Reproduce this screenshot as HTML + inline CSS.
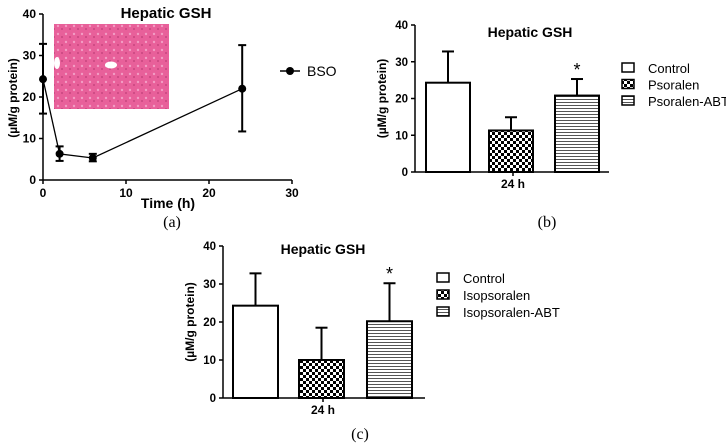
<!DOCTYPE html>
<html><head><meta charset="utf-8"><style>
body{margin:0;background:#fff;}
svg{display:block;font-family:"Liberation Sans",Arial,sans-serif;}
.b{font-weight:bold;}
</style></head><body>
<svg id="s" width="726" height="447" viewBox="0 0 726 447">
<defs>
<pattern id="chk" width="6" height="6" patternUnits="userSpaceOnUse"><rect width="6" height="6" fill="#fff"/><rect width="3" height="3" fill="#000"/><rect x="3" y="3" width="3" height="3" fill="#000"/></pattern>
<pattern id="hl" width="4" height="3" patternUnits="userSpaceOnUse"><rect width="4" height="3" fill="#fff"/><rect width="4" height="1" fill="#555"/></pattern>
<pattern id="tis" width="8" height="8" patternUnits="userSpaceOnUse"><rect width="8" height="8" fill="#e8609a"/><circle cx="2" cy="2" r="1.2" fill="#f39cc4"/><circle cx="6" cy="5" r="1" fill="#c9467f"/></pattern>
</defs>
</svg>
<script>
// Panel (a) data
const timeVals=[0,2,6,24];
const bsoMean=[24.3,6.3,5.3,22];
const bsoLow=[16,4.6,4.5,11.7];
const bsoHigh=[32.8,8.1,6.3,32.5];
const yTicks=[0,10,20,30,40];
const xTicksA=[0,10,20,30];
// Panel (b) data
const groupsB=["Control","Psoralen","Psoralen-ABT"];
const meanB=[24.3,11.3,20.8];
const errB=[32.8,14.9,25.3];
const starB=[false,false,true];
// Panel (c) data
const groupsC=["Control","Isopsoralen","Isopsoralen-ABT"];
const meanC=[24.3,10,20.2];
const errC=[32.8,18.5,30.2];
const starC=[false,false,true];

const svg=document.getElementById('s');
const NS='http://www.w3.org/2000/svg';
function mk(tag,at,txt){const e=document.createElementNS(NS,tag);for(const k in at)e.setAttribute(k,at[k]);if(txt!==undefined)e.textContent=txt;svg.appendChild(e);return e;}
function ln(x1,y1,x2,y2,w){return mk('line',{x1,y1,x2,y2,stroke:'#000','stroke-width':w||1.5});}

// ---------- Panel (a)
{
const X=v=>43+v*(249/30), Y=v=>180-v*(166/40);
const img=mk('rect',{x:54,y:24,width:115,height:85,fill:'url(#tis)'});


mk('ellipse',{cx:111,cy:65,rx:6,ry:3.5,fill:'#fff'});
mk('ellipse',{cx:57,cy:63,rx:3,ry:6,fill:'#fff'});
ln(43,14,43,180);ln(43,180,292,180);
yTicks.forEach(t=>{ln(39,Y(t),43,Y(t));const e=mk('text',{x:36,y:Y(t)+4,'text-anchor':'end','font-size':12,class:'b'},t);});
xTicksA.forEach(t=>{ln(X(t),180,X(t),184);const e=mk('text',{x:X(t),y:197,'text-anchor':'middle','font-size':12,class:'b'},t);});
const pts=timeVals.map((t,i)=>X(t)+','+Y(bsoMean[i])).join(' ');
const pl=mk('polyline',{points:pts,fill:'none',stroke:'#000','stroke-width':1.3});

timeVals.forEach((t,i)=>{const x=X(t);ln(x,Y(bsoLow[i]),x,Y(bsoHigh[i]),2);ln(x-4,Y(bsoLow[i]),x+4,Y(bsoLow[i]),2);ln(x-4,Y(bsoHigh[i]),x+4,Y(bsoHigh[i]),2);
const c=mk('circle',{cx:x,cy:Y(bsoMean[i]),r:4,fill:'#000'});});
let e=mk('text',{x:166,y:18,'text-anchor':'middle','font-size':15,class:'b'},'Hepatic GSH');
e=mk('text',{x:0,y:0,'text-anchor':'middle','font-size':12,class:'b',transform:'translate(17,98) rotate(-90)'},'(µM/g protein)');
e=mk('text',{x:168,y:208,'text-anchor':'middle','font-size':14,class:'b'},'Time (h)');
ln(280,71,300,71);mk('circle',{cx:290,cy:71,r:4,fill:'#000'});
e=mk('text',{x:307,y:76,'font-size':14},'BSO');
e=mk('text',{x:172,y:227,'text-anchor':'middle','font-size':16,'font-family':'Liberation Serif'},'(a)');
}

// ---------- bar panels
function barPanel(o,groups,mean,err,star){
const Y=v=>o.y0-v*(o.y0-o.y40)/40;
ln(o.ax,o.y40,o.ax,o.y0);ln(o.ax,o.y0,o.axEnd,o.y0);
yTicks.forEach(t=>{ln(o.ax-4,Y(t),o.ax,Y(t));const e=mk('text',{x:o.ax-7,y:Y(t)+4,'text-anchor':'end','font-size':11.5,class:'b'},t);});
const fills=['#fff','url(#chk)','url(#hl)'];
groups.forEach((g,i)=>{const x=o.bx[i],w=o.bw,cx=x+w/2;
ln(cx,Y(mean[i]),cx,Y(err[i]),2);ln(cx-6,Y(err[i]),cx+6,Y(err[i]),2);
const r=mk('rect',{x,y:Y(mean[i]),width:w,height:Y(0)-Y(mean[i]),fill:fills[i],stroke:'#000','stroke-width':2});

if(star[i]){const s=mk('text',{x:cx,y:Y(err[i])-3,'text-anchor':'middle','font-size':18},'*');}
const by=o.ly+i*o.lsp;
const lb=mk('rect',{x:o.lx,y:by-5,width:12,height:9,fill:fills[i],stroke:'#000','stroke-width':1.5});
const lt=mk('text',{x:o.lx+26,y:by+5,'font-size':13},g);
});
const tx=(o.ax+o.axEnd)/2-o.tickOff;ln(tx,o.y0,tx,o.y0+4);
let e=mk('text',{x:tx,y:o.y0+16,'text-anchor':'middle','font-size':12,class:'b'},'24 h');
e=mk('text',{x:o.tx,y:o.ty,'text-anchor':'middle','font-size':14,class:'b'},'Hepatic GSH');
e=mk('text',{x:0,y:0,'text-anchor':'middle','font-size':12,class:'b',transform:`translate(${o.ylx},${(o.y0+o.y40)/2}) rotate(-90)`},'(µM/g protein)');
e=mk('text',{x:o.px,y:o.py,'text-anchor':'middle','font-size':16,'font-family':'Liberation Serif'},o.pl);
}
barPanel({ax:415,axEnd:609,y0:172,y40:25,bx:[426,489,555],bw:44,lx:622,ly:68,lsp:16.5,tickOff:-1,tx:530,ty:37,ylx:386,px:547,py:227,pl:'(b)'},groupsB,meanB,errB,starB);
barPanel({ax:223,axEnd:425,y0:398,y40:246,bx:[233,299,367],bw:45,lx:437,ly:278,lsp:17,tickOff:1,tx:323,ty:254,ylx:194,px:360,py:439,pl:'(c)'},groupsC,meanC,errC,starC);
</script>
</body></html>
